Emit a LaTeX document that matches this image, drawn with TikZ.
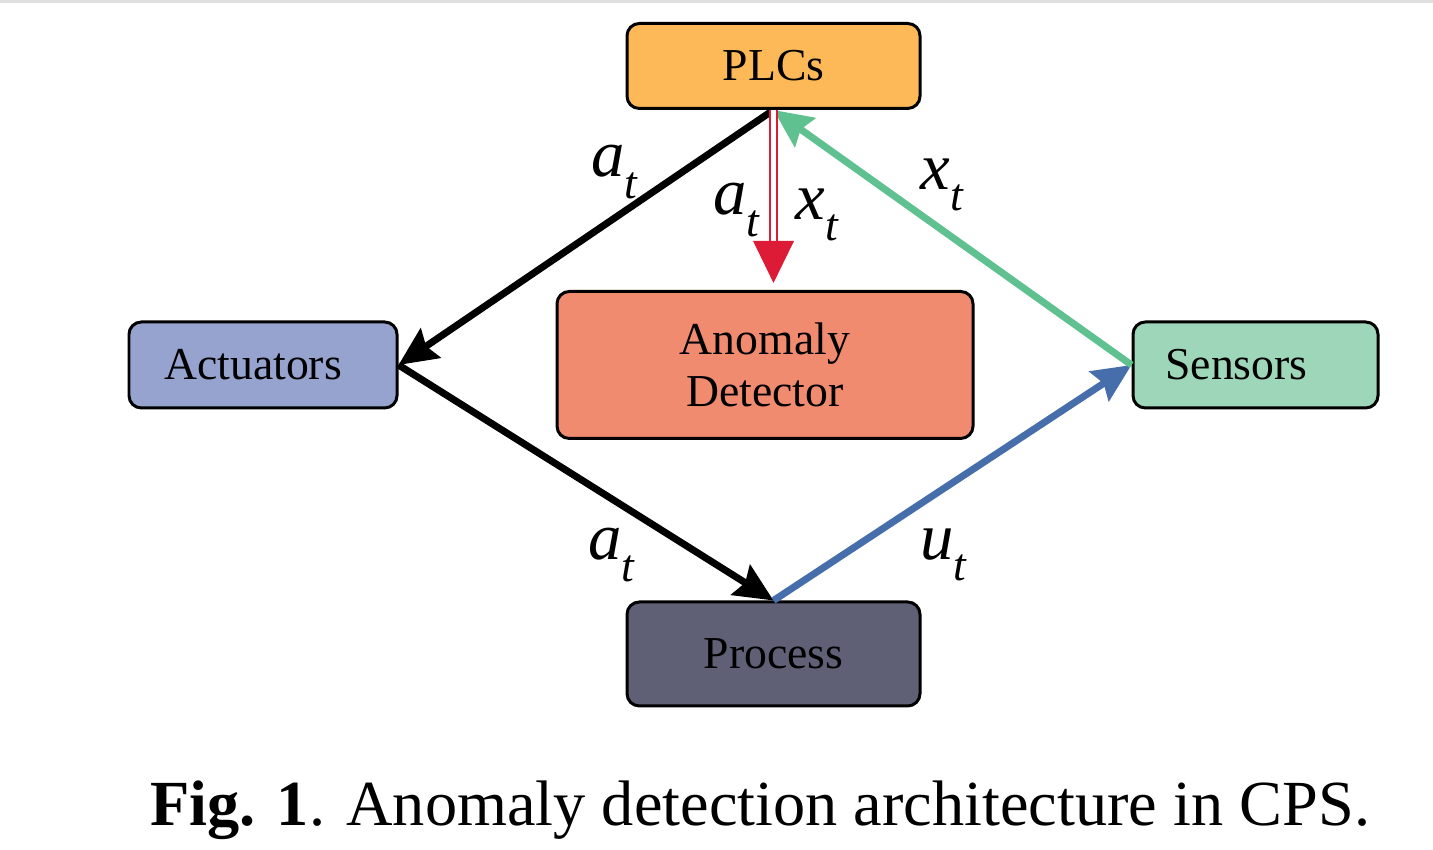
\documentclass[tikz,border=0pt]{standalone}
\usepackage{fontspec}
\setmainfont{Liberation Serif}
\usetikzlibrary{arrows.meta}
\definecolor{plccol}{RGB}{253,185,88}
\definecolor{actcol}{RGB}{150,163,207}
\definecolor{adcol}{RGB}{241,139,112}
\definecolor{sencol}{RGB}{158,214,186}
\definecolor{proccol}{RGB}{95,96,117}
\definecolor{greenarr}{RGB}{94,193,143}
\definecolor{bluearr}{RGB}{70,110,170}
\definecolor{redarr}{RGB}{222,27,55}
\newcommand{\sig}[1]{\textit{#1}\raisebox{-6pt}{\fontsize{13}{13}\selectfont\textit{t}}}
\tikzset{
  block/.style={draw=black, line width=0.85pt, rounded corners=3.5pt, inner sep=0pt,
    font=\fontsize{13}{15}\selectfont, align=center},
  flow/.style={line width=2pt, -{Stealth[length=11pt, width=10pt, inset=1.5pt]}},
  sig/.style={font=\fontsize{19}{20}\selectfont},
}
\begin{document}
\begin{tikzpicture}
\useasboundingbox (0,0) rectangle (14.33,8.5);
\draw[black!12, line width=1pt] (0,8.49)--(14.33,8.49);

\node[block, fill=plccol, minimum width=2.93cm, minimum height=0.85cm] (plc) at (7.735,7.84) {PLCs};
\node[block, fill=actcol, minimum width=2.68cm, minimum height=0.86cm] (act) at (2.63,4.85) {Actuators\hspace{0.2cm}};
\node[block, fill=adcol, minimum width=4.16cm, minimum height=1.47cm] (ad) at (7.65,4.85) {Anomaly\\Detector};
\node[block, fill=sencol, minimum width=2.45cm, minimum height=0.86cm] (sen) at (12.555,4.85) {Sensors\hspace{0.38cm}};
\node[block, fill=proccol, minimum width=2.93cm, minimum height=1.04cm] (proc) at (7.735,1.96) {Process};

\draw[flow, black](plc.south)--(act.east);
\draw[flow, black](act.east)--(proc.north);
\draw[flow, bluearr](proc.north)--(sen.west);
\draw[flow, greenarr](sen.west)--(plc.south);
\draw[redarr, line width=0.8pt, double=white, double distance=1.2pt,
  -{Triangle[length=12pt, width=11.5pt]}, shorten >=0.07cm](plc.south)--(plc.south |- ad.north);

\node[sig] (l1) at (6.15,6.78) {\sig{a}};
\node[sig] (l2) at (7.37,6.40) {\sig{a}};
\node[sig] (l3) at (8.17,6.35) {\sig{x}};
\node[sig] (l4) at (9.42,6.65) {\sig{x}};
\node[sig] (l5) at (6.12,2.95) {\sig{a}};
\node[sig] (l6) at (9.44,2.95) {\sig{u}};

\node[font=\fontsize{18.3}{20}\selectfont] (cap) at (7.6,0.40) {\textbf{Fig. 1}. Anomaly detection architecture in CPS.};
\end{tikzpicture}
\end{document}
